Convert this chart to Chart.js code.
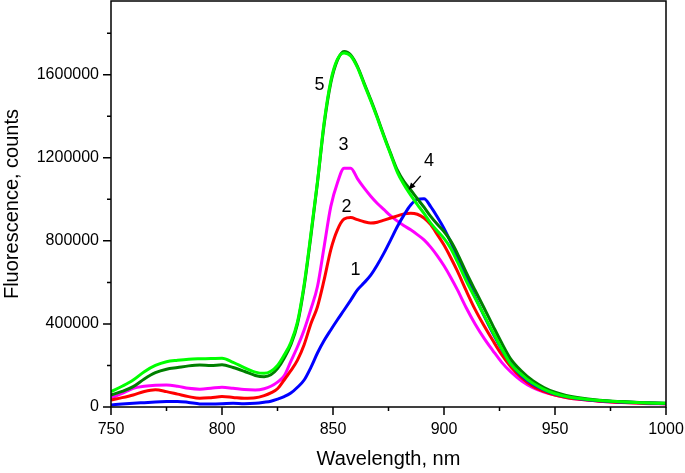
<!DOCTYPE html>
<html>
<head>
<meta charset="utf-8">
<script src="https://cdn.jsdelivr.net/npm/chart.js@4.4.1/dist/chart.umd.min.js"></script>
<style>
  html, body { margin: 0; padding: 0; background: #fff; }
  #wrap { width: 685px; height: 473px; position: relative; }
</style>
</head>
<body>
<div id="wrap"><canvas id="c" width="685" height="473"></canvas></div>
<script>
// ---------- data ----------
const wavelength = [750,755,760,765,770,775,780,785,790,795,800,805,810,815,819,822,825,828,831,834,837,840,843,846,849,852,855,858,861,864,867,870,873,876,879,882,885,888,891,894,897,900,903,906,910,914,918,922,926,930,935,940,945,950,955,960,970,980,990,1000];

const series1 = [10000,14000,18000,21000,24000,26000,27000,22000,15000,15000,16000,18000,16000,18000,23000,28000,38000,50000,67000,95000,130000,190000,260000,320000,371000,420000,467000,515000,564000,598000,635000,685000,742000,805000,869000,925000,973000,1000000,1003000,965000,915000,860000,795000,725000,625000,530000,440000,355000,278000,210000,150000,110000,82000,62000,50000,41000,30000,24000,20000,17000];

const series2 = [34000,45000,58000,75000,83000,74000,62000,50000,42000,45000,50000,46000,42000,44000,55000,68000,88000,130000,175000,226000,300000,400000,483000,612000,757000,853000,905000,912000,902000,892000,886000,890000,900000,910000,920000,930000,933000,928000,910000,878000,830000,780000,720000,655000,560000,470000,392000,320000,252000,195000,140000,100000,75000,57000,46000,38000,28000,22000,18000,16000];

const series3 = [42000,65000,90000,100000,105000,106000,100000,90000,86000,90000,95000,90000,84000,82000,88000,100000,120000,150000,220000,290000,371000,470000,580000,772000,965000,1080000,1150000,1150000,1100000,1055000,1015000,980000,950000,920000,895000,873000,853000,830000,805000,770000,728000,680000,625000,565000,478000,400000,332000,272000,215000,170000,125000,93000,72000,57000,46000,38000,28000,22000,17000,15000];

const series4 = [58000,75000,98000,135000,165000,182000,190000,198000,202000,200000,203000,190000,172000,152000,146000,155000,185000,235000,300000,400000,580000,820000,1080000,1360000,1560000,1670000,1712000,1695000,1640000,1560000,1480000,1395000,1305000,1220000,1140000,1085000,1045000,1003000,962000,918000,880000,845000,800000,740000,648000,562000,478000,392000,308000,232000,172000,126000,94000,71000,56000,46000,33000,26000,21000,18000];

const series5 = [74000,100000,130000,170000,200000,218000,225000,230000,232000,233000,235000,215000,190000,168000,162000,172000,200000,250000,310000,410000,590000,830000,1085000,1370000,1570000,1675000,1705000,1690000,1635000,1555000,1475000,1390000,1300000,1215000,1130000,1070000,1020000,975000,932000,885000,848000,812000,765000,700000,608000,525000,443000,360000,280000,208000,155000,114000,85000,64000,51000,42000,31000,25000,20000,18000];

const xTicks = [750, 800, 850, 900, 950, 1000];
const xMinorTicks = [775, 825, 875, 925, 975];
const yTicks = [0, 400000, 800000, 1200000, 1600000];
const yMinorTicks = [200000, 600000, 1000000, 1400000, 1800000];

const curveLabels = ['1', '2', '3', '4', '5'];
const curveLabelX = [860.1, 856.1, 854.7, 893.2, 843.9];
const curveLabelY = [660000, 964000, 1263000, 1185000, 1552000];
const arrowFrom = [889.5, 1113000];
const arrowTo = [884.1, 1046000];

// ---------- chart ----------
function pts(ys) { return wavelength.map((x, i) => ({ x: x, y: ys[i] })); }
const FONT = "'Liberation Sans', Arial, sans-serif";

function ds(data, color) {
  return {
    data: pts(data), borderColor: color, backgroundColor: color,
    borderWidth: 3, pointRadius: 0, fill: false,
    cubicInterpolationMode: 'monotone'
  };
}

function noPad(s) { s.paddingLeft = 0; s.paddingRight = 0; s.paddingTop = 0; s.paddingBottom = 0; }

const decor = {
  id: 'decor',
  afterDatasetsDraw(chart) {
    const ctx = chart.ctx, a = chart.chartArea;
    const xs = chart.scales.x, ys = chart.scales.y;
    ctx.save();
    ctx.strokeStyle = '#000';
    ctx.lineWidth = 1.5;
    ctx.strokeRect(a.left, a.top, a.right - a.left, a.bottom - a.top);
    ctx.beginPath();
    xTicks.forEach(v => { const p = xs.getPixelForValue(v); ctx.moveTo(p, a.bottom); ctx.lineTo(p, a.bottom + 8); });
    xMinorTicks.forEach(v => { const p = xs.getPixelForValue(v); ctx.moveTo(p, a.bottom); ctx.lineTo(p, a.bottom + 4); });
    yTicks.forEach(v => { const p = ys.getPixelForValue(v); ctx.moveTo(a.left, p); ctx.lineTo(a.left - 8, p); });
    yMinorTicks.forEach(v => { const p = ys.getPixelForValue(v); ctx.moveTo(a.left, p); ctx.lineTo(a.left - 4, p); });
    ctx.stroke();
    // curve labels
    ctx.fillStyle = '#000';
    ctx.font = '18px ' + FONT;
    ctx.textAlign = 'center';
    ctx.textBaseline = 'middle';
    curveLabels.forEach((t, i) => {
      ctx.fillText(t, xs.getPixelForValue(curveLabelX[i]), ys.getPixelForValue(curveLabelY[i]));
    });
    // arrow
    const x1 = xs.getPixelForValue(arrowFrom[0]), y1 = ys.getPixelForValue(arrowFrom[1]);
    const x2 = xs.getPixelForValue(arrowTo[0]), y2 = ys.getPixelForValue(arrowTo[1]);
    const ang = Math.atan2(y2 - y1, x2 - x1);
    ctx.lineWidth = 1.3;
    ctx.beginPath();
    ctx.moveTo(x1, y1);
    ctx.lineTo(x2 - 5 * Math.cos(ang), y2 - 5 * Math.sin(ang));
    ctx.stroke();
    ctx.beginPath();
    ctx.moveTo(x2, y2);
    ctx.lineTo(x2 - 7 * Math.cos(ang) + 3 * Math.sin(ang), y2 - 7 * Math.sin(ang) - 3 * Math.cos(ang));
    ctx.lineTo(x2 - 7 * Math.cos(ang) - 3 * Math.sin(ang), y2 - 7 * Math.sin(ang) + 3 * Math.cos(ang));
    ctx.closePath();
    ctx.fill();
    ctx.restore();
  }
};

new Chart(document.getElementById('c'), {
  type: 'line',
  data: {
    datasets: [
      ds(series5, '#00ff00'),
      ds(series4, '#008000'),
      ds(series1, '#0000ff'),
      ds(series2, '#ff0000'),
      ds(series3, '#ff00ff')
    ]
  },
  options: {
    responsive: false,
    animation: false,
    devicePixelRatio: 1,
    layout: { padding: { top: 1, right: 19, left: 0, bottom: 0 } },
    plugins: { legend: { display: false }, tooltip: { enabled: false } },
    scales: {
      x: {
        type: 'linear', min: 750, max: 1000,
        afterBuildTicks: s => { s.ticks = xTicks.map(v => ({ value: v })); },
        afterFit: s => { s.height = 66; noPad(s); },
        grid: { display: false, drawTicks: false, tickLength: 0 },
        border: { display: false },
        ticks: { color: '#000', font: { family: FONT, size: 16 }, padding: 13, maxRotation: 0, autoSkip: false, callback: v => String(v) },
        title: { display: true, text: 'Wavelength, nm', color: '#000', font: { family: FONT, size: 20 }, padding: { top: 0, bottom: 2 } }
      },
      y: {
        type: 'linear', min: 0, max: 1955000,
        afterBuildTicks: s => { s.ticks = yTicks.map(v => ({ value: v })); },
        afterFit: s => { s.width = 111; noPad(s); },
        grid: { display: false, drawTicks: false, tickLength: 0 },
        border: { display: false },
        ticks: { color: '#000', font: { family: FONT, size: 16 }, padding: 12, autoSkip: false, callback: v => String(v) },
        title: { display: true, text: 'Fluorescence, counts', color: '#000', font: { family: FONT, size: 20 }, padding: { top: 0, bottom: 0 } }
      }
    }
  },
  plugins: [decor]
});
</script>
</body>
</html>
